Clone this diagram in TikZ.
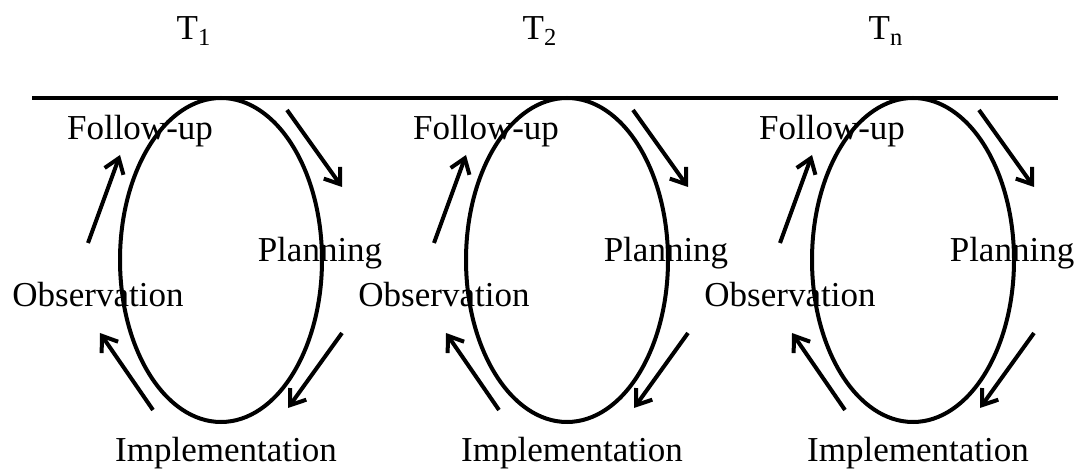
\documentclass[tikz,border=0pt]{standalone}
\usepackage{fontspec}
\setmainfont{Liberation Serif}
\usetikzlibrary{arrows.meta, shapes.geometric, calc}

\begin{document}
\begin{tikzpicture}[
    x=0.5pt, y=-0.5pt,
    every node/.style={font=\fontsize{17.5pt}{21pt}\selectfont, inner sep=0pt},
    cycle/.style={ellipse, draw, line width=2pt,
                  minimum width=101pt, minimum height=162pt},
    lbl/.style={anchor=base},
    arr/.style={line width=2pt, -{Straight Barb[length=7pt, width=10pt, line width=2pt]}}
  ]
    \useasboundingbox (0,0) rectangle (1086,469);

    % time axis
    \coordinate (axL) at (32,98);
    \coordinate (axR) at (1058,98);
    \draw[line width=2pt] (axL) -- (axR);

    % one cycle per time step
    \foreach \i/\cx/\t in {1/221/1, 2/567/2, 3/913/n} {
      \node[lbl] (time\i) at (\cx-27,40) {T\textsubscript{\t}};
      \node[cycle] (cyc\i) at (\cx,260) {};

      \node[lbl] (fol\i) at (\cx-81,140) {Follow-up};
      \node[lbl] (pla\i) at (\cx+99,262) {Planning};
      \node[lbl] (obs\i) at (\cx-123,307) {Observation};
      \node[lbl] (imp\i) at (\cx+5,462) {Implementation};

      \coordinate (tr0\i) at (\cx+66,110);  \coordinate (tr1\i) at (\cx+121,187);
      \coordinate (br0\i) at (\cx+121,333); \coordinate (br1\i) at (\cx+67,408);
      \coordinate (bl0\i) at (\cx-68,410);  \coordinate (bl1\i) at (\cx-121,333);
      \coordinate (lu0\i) at (\cx-133,243); \coordinate (lu1\i) at (\cx-101,155);

      \draw[arr] (tr0\i) -- (tr1\i);
      \draw[arr] (br0\i) -- (br1\i);
      \draw[arr] (bl0\i) -- (bl1\i);
      \draw[arr] (lu0\i) -- (lu1\i);
    }
\end{tikzpicture}
\end{document}
